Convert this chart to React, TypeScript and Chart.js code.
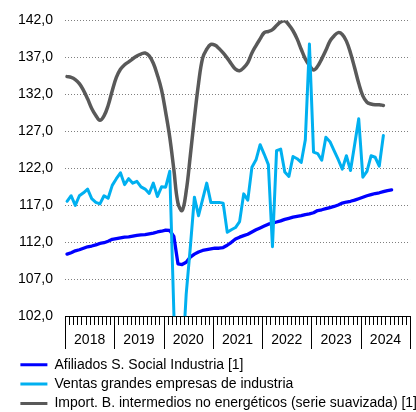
import React, { useEffect, useRef } from 'react';
import { Chart, registerables } from 'chart.js';

Chart.register(...registerables);

// ---- Data -------------------------------------------------------------
const years = ['2018', '2019', '2020', '2021', '2022', '2023', '2024'];

const seriesLabels = [
  'Afiliados S. Social Industria [1]',
  'Ventas grandes empresas de industria',
  'Import. B. intermedios no energéticos (serie suavizada) [1]',
];

// Monthly values from Jan 2018
const afiliados = [
  110.4, 110.6, 110.85, 111.0, 111.2, 111.4, 111.5, 111.65, 111.85, 111.95, 112.15, 112.4,
  112.5, 112.6, 112.7, 112.75, 112.85, 112.95, 113.0, 113.05, 113.15, 113.25, 113.4, 113.5,
  113.65, 113.6, 112.8, 109.1, 109.0, 109.3, 110.0, 110.4, 110.7, 110.9, 111.0, 111.1,
  111.2, 111.2, 111.3, 111.6, 112.0, 112.45, 112.7, 112.9, 113.1, 113.4, 113.7, 113.95,
  114.2, 114.45, 114.6, 114.75, 114.9, 115.1, 115.25, 115.4, 115.5, 115.6, 115.75, 115.85,
  116.0, 116.3, 116.4, 116.55, 116.7, 116.85, 117.05, 117.3, 117.45, 117.55, 117.7, 117.9,
  118.1, 118.3, 118.45, 118.6, 118.7, 118.85, 119.0, 119.1,
];

const ventas = [
  117.55, 118.3, 117.0, 118.3, 118.7, 119.2, 117.9, 117.4, 117.2, 118.3, 117.95, 119.7,
  120.6, 121.4, 119.8, 120.6, 120.0, 120.25, 119.5, 119.2, 118.6, 120.0, 118.2, 119.5,
  119.45, 121.6, 102.5, 80.0, 95.0, 105.0, 111.3, 118.1, 115.6, 117.8, 120.0, 117.4,
  117.4, 117.4, 117.3, 113.35, 113.7, 114.0, 114.8, 118.55, 117.7, 122.15, 123.15, 125.2,
  123.9, 122.5, 111.4, 124.4, 124.6, 121.5, 120.9, 123.6, 123.3, 122.8, 125.85, 138.8,
  124.2, 124.0, 123.1, 126.2, 125.6, 124.4, 123.2, 121.9, 123.7, 121.7, 125.2, 128.7,
  120.8, 121.6, 123.7, 123.5, 122.3, 126.45,
];

const importaciones = [
  134.4, 134.3, 134.0, 133.45, 132.55, 131.4, 130.1, 129.15, 128.5, 129.1, 130.5, 132.5,
  134.3, 135.4, 136.0, 136.4, 136.8, 137.2, 137.45, 137.6, 137.2, 136.2, 134.6, 132.6,
  129.6, 126.2, 121.8, 117.3, 116.3, 118.9, 123.7, 128.8, 133.45, 136.9, 138.1, 138.75,
  138.65, 138.2, 137.6, 136.9, 136.1, 135.4, 135.2, 135.6, 136.3, 137.6, 138.6, 139.5,
  140.35, 140.5, 140.75, 141.3, 141.8, 141.95, 141.4, 140.6, 139.5, 138.1, 136.8, 135.9,
  135.3, 135.8, 136.8, 137.95, 139.2, 139.9, 140.35, 140.1, 139.2, 137.6, 135.6, 133.5,
  131.8, 130.95, 130.7, 130.6, 130.6, 130.5,
];

const yMin = 102;
const yMax = 142;
const yStep = 5;

// ---- Styling ----------------------------------------------------------
const FONT = "'Liberation Sans', Arial, Helvetica, sans-serif";
const COLORS = ['#0000ff', '#00b0f0', '#595959'];

const toXY = (arr: number[]) => arr.map((v, i) => ({ x: i, y: v }));

const monthTicks = {
  id: 'monthTicks',
  afterDraw(chart: any) {
    const { ctx, chartArea } = chart;
    const x = chart.scales.x;
    const y0 = Math.round(chartArea.bottom);
    const n = years.length * 12;
    ctx.save();
    ctx.strokeStyle = '#000';
    ctx.lineWidth = 1;
    ctx.beginPath();
    for (let k = 0; k <= n; k++) {
      const px = Math.min(Math.round(x.getPixelForValue(k - 0.5)), chart.width - 1) + 0.5;
      const len = k % 12 === 0 ? 33 : 9;
      ctx.moveTo(px, y0);
      ctx.lineTo(px, y0 + len);
    }
    ctx.stroke();
    ctx.restore();
  },
};

export default function App() {
  const ref = useRef<HTMLCanvasElement | null>(null);

  useEffect(() => {
    document.body.style.margin = '0';
    const canvas = ref.current;
    if (!canvas) return;

    const chart = new Chart(canvas, {
      type: 'line',
      data: {
        datasets: [
          {
            label: seriesLabels[0],
            data: toXY(afiliados),
            borderColor: COLORS[0],
            backgroundColor: COLORS[0],
            borderWidth: 3.3,
            pointRadius: 0,
            tension: 0,
            borderJoinStyle: 'round',
            borderCapStyle: 'round',
            order: 1,
          },
          {
            label: seriesLabels[1],
            data: toXY(ventas),
            borderColor: COLORS[1],
            backgroundColor: COLORS[1],
            borderWidth: 3,
            pointRadius: 0,
            tension: 0,
            borderJoinStyle: 'round',
            borderCapStyle: 'round',
            clip: { left: 5, top: 5, right: 5, bottom: 0 },
            order: 0,
          },
          {
            label: seriesLabels[2],
            data: toXY(importaciones),
            borderColor: COLORS[2],
            backgroundColor: COLORS[2],
            borderWidth: 3.5,
            pointRadius: 0,
            tension: 0.4,
            borderJoinStyle: 'round',
            borderCapStyle: 'round',
            order: 2,
          },
        ],
      } as any,
      options: {
        responsive: false,
        animation: false,
        devicePixelRatio: 1,
        events: [],
        layout: { padding: { left: 15, top: 20, right: 0, bottom: -8.5 } },
        scales: {
          x: {
            type: 'linear',
            min: -0.5,
            max: years.length * 12 - 0.5,
            afterBuildTicks: (axis: any) => {
              axis.ticks = years.map((_, i) => ({ value: i * 12 + 5.5 }));
            },
            afterFit: (axis: any) => {
              axis.height = 36;
            },
            grid: { display: false, drawTicks: false },
            border: { display: true, color: '#000', width: 1 },
            ticks: {
              autoSkip: false,
              maxRotation: 0,
              padding: 15,
              color: '#000',
              font: { family: FONT, size: 14 },
              callback: (v: any) => years[Math.floor((Number(v) + 0.5) / 12)] ?? '',
            },
          },
          y: {
            min: yMin,
            max: yMax,
            afterFit: (axis: any) => {
              axis.width = 50;
            },
            grid: {
              color: '#7f7f7f',
              lineWidth: 1,
              drawTicks: false,
            },
            border: { display: false, dash: [1, 2] },
            ticks: {
              stepSize: yStep,
              padding: 12,
              color: '#000',
              font: { family: FONT, size: 14 },
              callback: (v: any) => Number(v).toFixed(1).replace('.', ','),
            },
          },
        },
        plugins: {
          legend: {
            display: true,
            position: 'bottom',
            align: 'start',
            labels: {
              boxWidth: 27,
              boxHeight: 3,
              padding: 5.4,
              color: '#000',
              font: { family: FONT, size: 14 },
              sort: (a: any, b: any) => a.datasetIndex - b.datasetIndex,
              generateLabels: (c: any) =>
                (Chart.defaults.plugins.legend.labels.generateLabels as any)(c).map((it: any) => ({
                  ...it,
                  fillStyle: COLORS[it.datasetIndex],
                  strokeStyle: COLORS[it.datasetIndex],
                  lineWidth: 0,
                })),
            },
          },
          tooltip: { enabled: false },
        },
      } as any,
      plugins: [monthTicks],
    });

    return () => chart.destroy();
  }, []);

  return (
    <div style={{ width: 416, height: 412 }}>
      <canvas ref={ref} width={416} height={412} style={{ display: 'block' }} />
    </div>
  );
}
